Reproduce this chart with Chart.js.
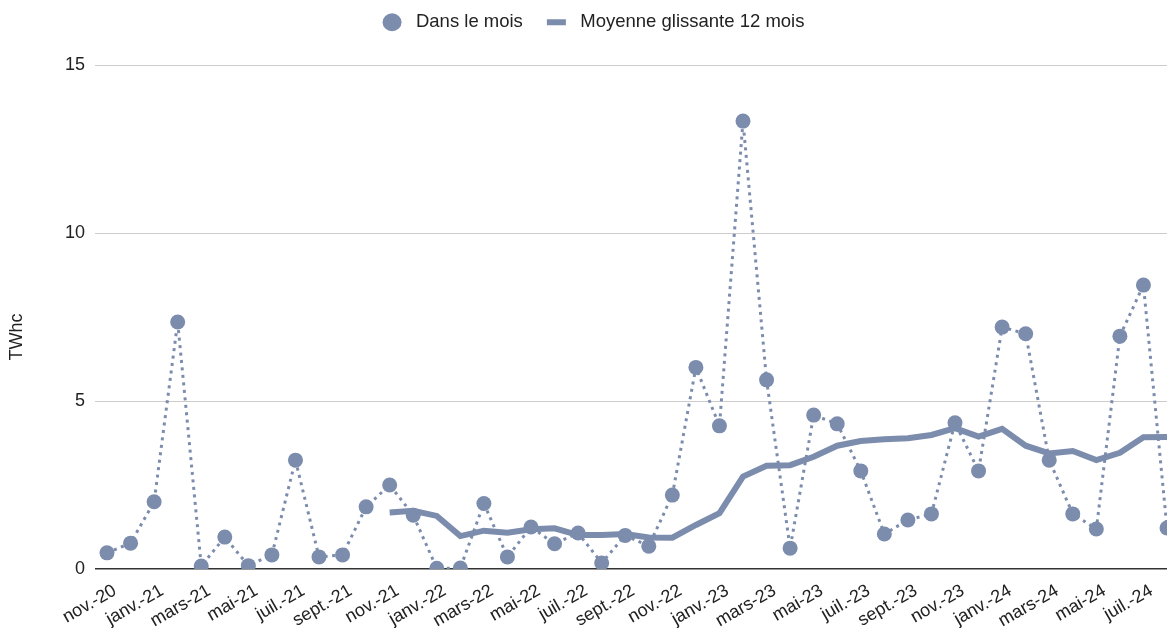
<!DOCTYPE html>
<html>
<head>
<meta charset="utf-8">
<script src="https://cdn.jsdelivr.net/npm/chart.js@4/dist/chart.umd.min.js"></script>
<style>
  html, body { margin: 0; padding: 0; background: #fff; }
  #wrap { width: 1167px; height: 628px; }
</style>
</head>
<body>
<div id="wrap"><canvas id="chart" width="1167" height="628"></canvas></div>
<script>
// months from nov. 2020 to août 2024
const months = [
    'nov.-20', 'déc.-20',
    'janv.-21', 'févr.-21', 'mars-21', 'avr.-21', 'mai-21', 'juin-21', 'juil.-21', 'août-21', 'sept.-21', 'oct.-21', 'nov.-21', 'déc.-21',
    'janv.-22', 'févr.-22', 'mars-22', 'avr.-22', 'mai-22', 'juin-22', 'juil.-22', 'août-22', 'sept.-22', 'oct.-22', 'nov.-22', 'déc.-22',
    'janv.-23', 'févr.-23', 'mars-23', 'avr.-23', 'mai-23', 'juin-23', 'juil.-23', 'août-23', 'sept.-23', 'oct.-23', 'nov.-23', 'déc.-23',
    'janv.-24', 'févr.-24', 'mars-24', 'avr.-24', 'mai-24', 'juin-24', 'juil.-24', 'août-24'
];

// TWhc par mois
const monthly = [
    0.48, 0.77,
    2.0, 7.35, 0.09, 0.95, 0.1, 0.42, 3.24, 0.36, 0.42, 1.85, 2.5, 1.6,
    0.02, 0.03, 1.95, 0.36, 1.25, 0.75, 1.07, 0.18, 1.0, 0.68, 2.2, 6.0,
    4.26, 13.33, 5.63, 0.62, 4.58, 4.32, 2.92, 1.04, 1.46, 1.64, 4.35, 2.92,
    7.2, 7.0, 3.24, 1.64, 1.19, 6.93, 8.45, 1.22
];

// moyenne glissante 12 mois (starts nov.-21)
const rolling = [
    null, null,
    null, null, null, null, null, null, null, null, null, null, 1.68, 1.73,
    1.58, 0.98, 1.14, 1.08, 1.18, 1.21, 1.01, 1.01, 1.04, 0.94, 0.93, 1.31,
    1.66, 2.75, 3.07, 3.09, 3.34, 3.67, 3.81, 3.86, 3.89, 3.99, 4.19, 3.94,
    4.17, 3.67, 3.44, 3.51, 3.24, 3.46, 3.92, 3.93
];

const yTicks = [0, 5, 10, 15];

const color = '#7b8cad';
const font  = 'Liberation Sans, Arial, sans-serif';

const data = {
    datasets: [{
        label: ' Dans le mois',
        data: monthly.map((v, i) => ({ x: i, y: v })),
        borderColor: color,
        backgroundColor: color,
        borderWidth: 3,
        borderDash: [3, 4.5],
        pointRadius: 7.5,
        pointBorderWidth: 0,
        pointStyle: 'circle',
        order: 1
    }, {
        label: ' Moyenne glissante 12 mois',
        data: rolling.map((v, i) => ({ x: i, y: v })),
        borderColor: color,
        backgroundColor: color,
        borderWidth: 6,
        pointRadius: 0,
        pointStyle: 'line',
        order: 2
    }]
};

// legend height/offset + lowered y title (centred on axis + labels like the original)
const tweaks = {
    id: 'tweaks',
    beforeInit(chart) {
        const fit = chart.legend.fit;
        chart.legend.fit = function () {
            fit.call(this);
            this.height = 76;
        };
    },
    afterLayout(chart) {
        chart.legend.left += 10;
        chart.legend.right += 10;
        const s = chart.scales.y;
        if (s._tw) return;
        s._tw = true;
        const drawTitle = s.drawTitle;
        s.drawTitle = function () {
            const b = this.bottom;
            this.bottom = b + 40;
            drawTitle.call(this);
            this.bottom = b;
        };
    }
};

const config = {
    type: 'line',
    data: data,
    plugins: [tweaks],
    options: {
        responsive: false,
        animation: false,
        layout: { autoPadding: false, padding: { top: -11, right: 0, left: 0, bottom: 0 } },
        plugins: {
            legend: {
                position: 'top',
                labels: {
                    usePointStyle: true,
                    boxHeight: 12.7,
                    pointStyleWidth: 19,
                    color: '#222',
                    font: { family: font, size: 18.5 },
                    padding: 24
                }
            },
            tooltip: { enabled: false }
        },
        scales: {
            x: {
                type: 'linear',
                min: -0.51,
                max: 45,
                afterBuildTicks: (scale) => {
                    scale.ticks = months.map((m, i) => ({ value: i })).filter(t => t.value % 2 === 0);
                },
                afterFit: (scale) => {
                    scale.paddingRight = 0;
                    scale.height = 59;
                },
                ticks: {
                    callback: (v) => months[v],
                    minRotation: 30,
                    maxRotation: 30,
                    autoSkip: false,
                    labelOffset: 8,
                    color: '#222',
                    padding: 3,
                    font: { family: font, size: 18 }
                },
                grid: { display: false },
                border: { display: false }
            },
            y: {
                min: 0,
                max: 15,
                afterBuildTicks: (scale) => {
                    scale.ticks = yTicks.map(v => ({ value: v }));
                },
                afterFit: (scale) => {
                    scale.width = 95;
                    scale.paddingTop = 0;
                    scale.paddingBottom = 0;
                },
                title: {
                    display: true,
                    text: 'TWhc',
                    color: '#222',
                    font: { family: font, size: 18 },
                    padding: { top: 6, bottom: 0 }
                },
                ticks: {
                    color: '#222',
                    padding: 10,
                    font: { family: font, size: 18 }
                },
                grid: {
                    color: (ctx) => ctx.tick.value === 0 ? '#333' : '#ccc',
                    lineWidth: (ctx) => ctx.tick.value === 0 ? 1.5 : 1,
                    drawTicks: false
                },
                border: { display: false }
            }
        }
    }
};

new Chart(document.getElementById('chart'), config);
</script>
</body>
</html>
